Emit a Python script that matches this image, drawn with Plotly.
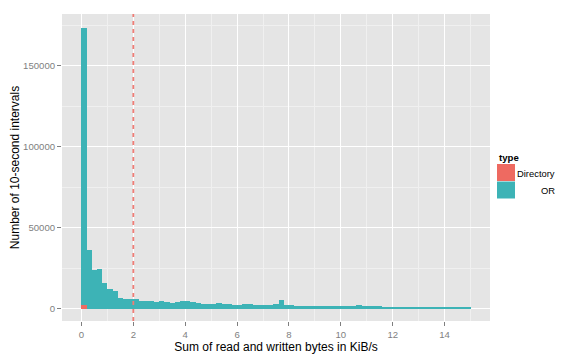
import plotly.graph_objects as go

# ---- data ----
bin_width = 0.2
bin_starts = [round(i * bin_width, 1) for i in range(75)]  # 0.0 .. 14.8
directory_counts = [2100] + [0] * 74
or_counts = [
    170900, 36000, 23600, 24300, 15600, 11900, 10700, 6400, 5700, 5700,
    5700, 4500, 4500, 4500, 3900, 4500, 3900, 3500, 4300, 4900,
    4900, 4300, 3700, 3100, 3100, 3100, 3700, 3100, 3100, 2500,
    2500, 3100, 3100, 2500, 2500, 2500, 2500, 3100, 5600, 2500,
    2500, 1900, 1900, 1900, 1900, 1500, 1500, 1500, 1400, 1400,
    1400, 1400, 1400, 2000, 1400, 1400, 1400, 1400, 1300, 1300,
    1300, 1300, 1300, 1300, 1200, 1200, 1200, 1200, 1200, 1200,
    1100, 1100, 1100, 1100, 1100,
]
threshold = 2
x_ticks = [0, 2, 4, 6, 8, 10, 12, 14]
y_ticks = [0, 50000, 100000, 150000]
legend_title = "type"
series_names = ["Directory", "OR"]
colors = ["#EE6A61", "#3DB3B6"]

bin_centers = [s + bin_width / 2 for s in bin_starts]

font = "Liberation Sans, Arial, sans-serif"
fig = go.Figure()
for name, vals, col in zip(series_names, [directory_counts, or_counts], colors):
    fig.add_trace(go.Bar(
        x=bin_centers, y=vals, width=bin_width, name=name,
        marker=dict(color=col, line=dict(width=0)), showlegend=False,
    ))

fig.add_vline(x=threshold, line=dict(color="#EF7D76", width=1.8, dash="4px,4px"), layer="above")

# manual ggplot-style legend
L, R, T, B = 62, 86, 14, 39
W, H = 576 - L - R, 360 - T - B
def px(x):
    return (x - L) / W
def py(y):
    return (360 - B - y) / H

fig.add_annotation(text="<b>" + legend_title + "</b>", x=px(497), y=py(157), xref="paper", yref="paper",
                   xanchor="left", yanchor="middle", showarrow=False, font=dict(size=9.6, color="black", family=font))
for i, (name, col) in enumerate(zip(series_names, colors)):
    y0 = 164 + i * 17.5
    fig.add_shape(type="rect", xref="paper", yref="paper", x0=px(497), x1=px(515), y0=py(y0), y1=py(y0 + 17),
                  fillcolor=col, line=dict(width=0))
    fig.add_annotation(text=name, x=px(557), y=py(y0 + 9), xref="paper", yref="paper",
                       xanchor="right", yanchor="middle", showarrow=False,
                       font=dict(size=9.4, color="black", family=font))

axis_common = dict(
    showgrid=True, gridcolor="white", gridwidth=1.4, zeroline=False,
    ticks="outside", ticklen=4, tickcolor="#7F7F7F", tickwidth=1,
    tickfont=dict(size=9.6, color="#7F7F7F", family=font),
    showline=False, automargin=False,
    minor=dict(showgrid=True, gridcolor="#F0F0F0", gridwidth=0.7, ticks=""),
)
fig.update_layout(
    width=576, height=360, barmode="stack", bargap=0,
    margin=dict(l=L, r=R, t=T, b=B, autoexpand=False),
    paper_bgcolor="white", plot_bgcolor="#E5E5E5",
    font=dict(family=font),
    xaxis=dict(range=[-0.75, 15.75], tickvals=x_ticks, ticktext=[str(v) for v in x_ticks], minor_dtick=1, **axis_common,
               title=dict(text="Sum of read and written bytes in KiB/s", font=dict(size=12, color="black", family=font), standoff=3)),
    yaxis=dict(range=[-7600, 181800], tickvals=y_ticks, ticktext=[str(v) for v in y_ticks],
               minor_tickvals=[25000, 75000, 125000, 175000], **axis_common,
               title=dict(text="Number of 10-second intervals", font=dict(size=12, color="black", family=font), standoff=0)),
)
fig.write_html("out.html", config={"displayModeBar": False}, post_script="document.body.style.margin='0';")
